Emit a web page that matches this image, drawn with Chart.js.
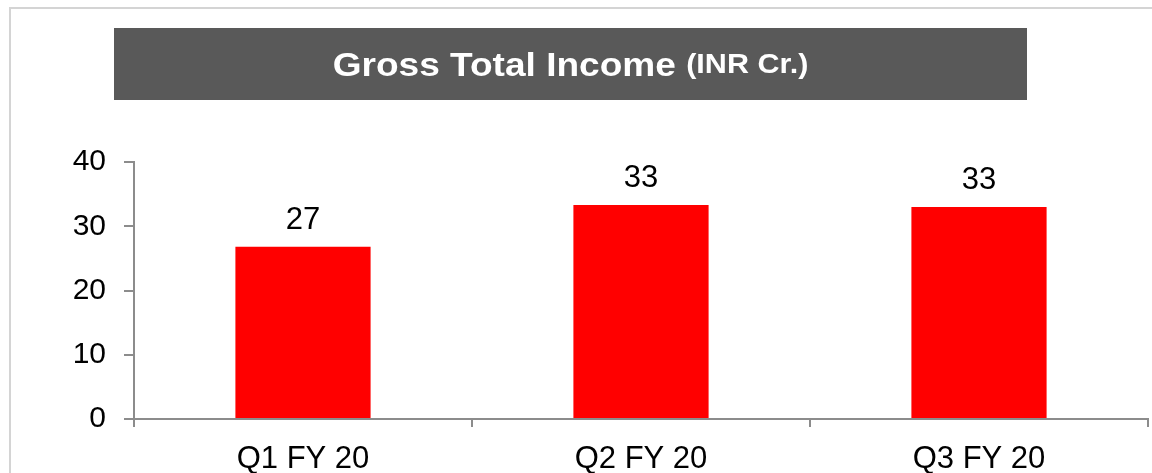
<!DOCTYPE html>
<html>
<head>
<meta charset="utf-8">
<script src="https://cdn.jsdelivr.net/npm/chart.js@4.4.1/dist/chart.umd.min.js"></script>
<style>
  html,body{margin:0;padding:0;background:#fff;overflow:hidden;}
  #wrap{position:relative;width:1152px;height:473px;}
  #frame{position:absolute;left:9px;top:7px;right:0;bottom:0;border-top:2px solid #d4d4d4;border-left:2px solid #d4d4d4;}
  #title{position:absolute;left:114px;top:28px;width:913px;height:72px;background:#595959;}
  #title .inner{position:absolute;left:0;right:0;top:0;bottom:0;color:#fff;
    font-family:"Liberation Sans",Arial,sans-serif;font-weight:bold;display:flex;align-items:center;justify-content:center;white-space:pre;
    transform:scaleX(1.09);}
  #title .big{font-size:34px;}
  #title .small{font-size:28px;}
  canvas{position:absolute;left:0;top:0;}
</style>
</head>
<body>
<div id="wrap">
  <div id="frame"></div>
  <canvas id="c" width="1152" height="473"></canvas>
  <div id="title"><div class="inner"><span class="big">Gross Total Income </span><span class="small">(INR Cr.)</span></div></div>
</div>
<script>
const categories = ["Q1 FY 20", "Q2 FY 20", "Q3 FY 20"];
const values = [26.8, 33.3, 33.0];
const valueLabels = ["27", "33", "33"];
const yTicks = [0, 10, 20, 30, 40];

const FONT = '"Liberation Sans", Arial, sans-serif';

const valueLabelPlugin = {
  id: 'valueLabels',
  afterDatasetsDraw(chart) {
    const ctx = chart.ctx;
    const meta = chart.getDatasetMeta(0);
    ctx.save();
    ctx.fillStyle = '#000';
    ctx.font = '31px ' + FONT;
    ctx.textAlign = 'center';
    ctx.textBaseline = 'alphabetic';
    meta.data.forEach((bar, i) => {
      ctx.fillText(valueLabels[i], bar.x, bar.y - 18);
    });
    ctx.restore();
  }
};

new Chart(document.getElementById('c'), {
  type: 'bar',
  data: {
    labels: categories,
    datasets: [{
      data: values,
      backgroundColor: '#ff0000',
      borderWidth: 0,
      categoryPercentage: 0.8,
      barPercentage: 0.5
    }]
  },
  options: {
    responsive: false,
    animation: false,
    events: [],
    layout: { padding: { left: 0, right: 4, top: 162, bottom: 0 } },
    plugins: { legend: { display: false }, tooltip: { enabled: false }, title: { display: false } },
    scales: {
      x: {
        offset: true,
        grid: { offset: true, drawOnChartArea: false, drawTicks: true, tickLength: 8, color: '#8c8c8c', lineWidth: 2 },
        border: { display: true, color: '#8c8c8c', width: 2 },
        ticks: { color: '#000', font: { family: FONT, size: 31 }, padding: 14, maxRotation: 0 },
        afterFit(scale) { scale.height = 54; }
      },
      y: {
        min: 0, max: 40,
        afterBuildTicks(scale) { scale.ticks = yTicks.map(v => ({ value: v })); },
        grid: { drawOnChartArea: false, drawTicks: true, tickLength: 10, color: '#8c8c8c', lineWidth: 2 },
        border: { display: true, color: '#8c8c8c', width: 2 },
        ticks: { color: '#000', font: { family: FONT, size: 30 }, padding: 18 },
        afterFit(scale) { scale.width = 134; }
      }
    }
  },
  plugins: [valueLabelPlugin]
});
</script>
</body>
</html>
